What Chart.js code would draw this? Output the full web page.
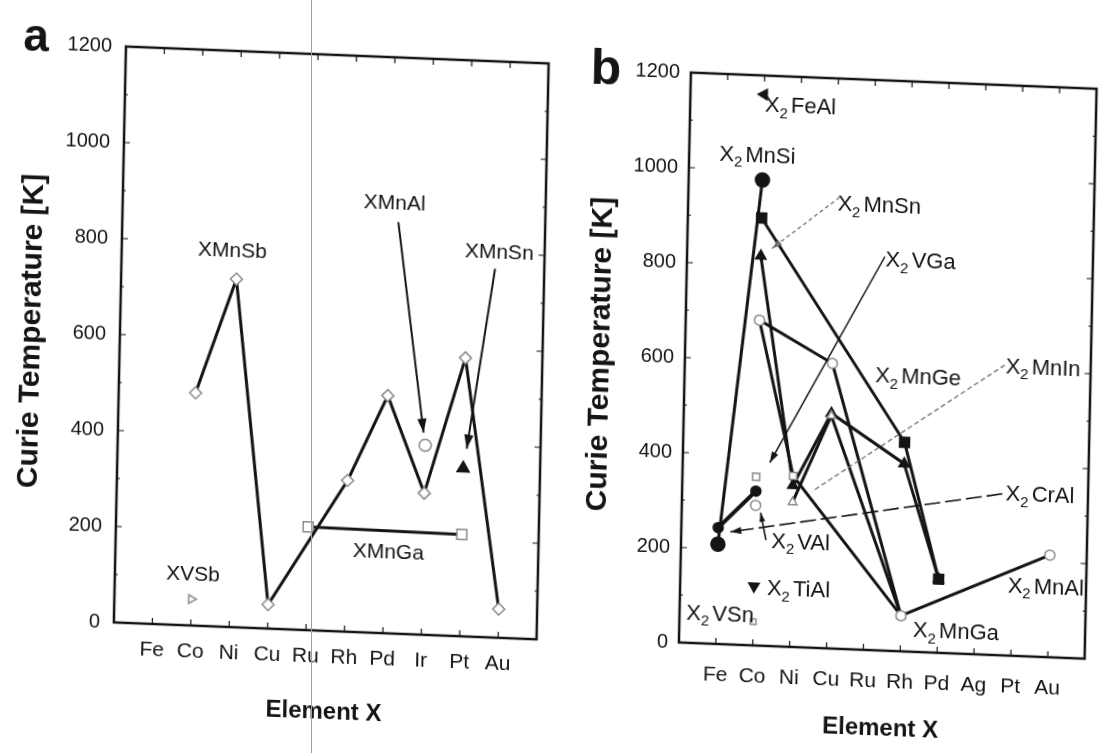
<!DOCTYPE html>
<html>
<head>
<meta charset="utf-8">
<title>Curie temperatures of Heusler compounds</title>
<script src="https://cdn.jsdelivr.net/npm/chart.js@4.4.1/dist/chart.umd.min.js"></script>
<style>
  html, body { margin: 0; background: #fff; }
  body { width: 1110px; height: 753px; position: relative; overflow: hidden; }
  .panel { position: absolute; top: 0; height: 753px; transform: matrix(1, 0.04, -0.021, 1, 0, 0); }
  /* the scan is slightly skewed, pivot on the plot centre */
  #panelA { left: 0; width: 560px; transform-origin: 331px 343px; }
  #panelB { left: 560px; width: 550px; transform-origin: 335px 366px; }
  .crease { position: absolute; left: 311px; top: 0; width: 1px; height: 753px; background: #a0a0a0; }
</style>
</head>
<body>
<div class="panel" id="panelA"><canvas id="chartA"></canvas></div>
<div class="panel" id="panelB"><canvas id="chartB"></canvas></div>
<div class="crease"></div>
<script>
// Curie temperature [K] vs element X

const elementsA = ['Fe', 'Co', 'Ni', 'Cu', 'Ru', 'Rh', 'Pd', 'Ir', 'Pt', 'Au'];
const elementsB = ['Fe', 'Co', 'Ni', 'Cu', 'Ru', 'Rh', 'Pd', 'Ag', 'Pt', 'Au'];
const yTicks = [0, 200, 400, 600, 800, 1000, 1200];

// (a) half-Heusler XYZ
const XMnSb = [null, 485, 725, 50, null, 315, 495, 295, 580, 60];
const XMnAl = [null, null, null, null, null, null, null, 395, null, null];
const XMnSn = [null, null, null, null, null, null, null, null, 350, null];
const XMnGa = [null, null, null, null, 215, null, null, null, 212, null];
const XVSb  = [null, 55, null, null, null, null, null, null, null, null];

// (b) full Heusler X2YZ
const X2MnSi = [210, 980, null, null, null, null, null, null, null, null];
const X2MnGe = [null, 900, null, null, null, 440, 155, null, null, null];
const X2MnSn = [null, 820, 340, 495, null, 395, 155, null, null, null];
const X2MnAl = [null, 685, null, 600, null, 75, null, null, null, 215];
const X2MnGa = [null, 685, 360, null, null, 75, null, null, null, null];
const X2MnIn = [null, null, 305, 490, null, 75, null, null, null, null];
const X2CrAl = [245, 325, null, null, null, null, null, null, null, null];
const X2VGa  = [null, 355, null, null, null, null, null, null, null, null];
const X2VAl  = [null, 295, null, null, null, null, null, null, null, null];
const X2TiAl = [null, 125, null, null, null, null, null, null, null, null];
const X2VSn  = [null, 50, null, null, null, null, null, null, null, null];
const X2FeAl = [null, 1160, null, null, null, null, null, null, null, null];

const INK = '#141414';
const OPEN = '#8a8a8a';
const FONT = "'Liberation Sans', Arial, sans-serif";

// one empty slot on each side so Fe..Au sit a full step inside the frame
const pad = arr => [null, ...arr, null];

function series(label, values, style) {
    return Object.assign({
        label: label,
        data: pad(values),
        spanGaps: true,
        borderColor: INK,
        borderWidth: 3,
        borderJoinStyle: 'round',
        pointRadius: 6,
        pointBorderWidth: 1.5,
        pointBorderColor: OPEN,
        pointBackgroundColor: '#fff'
    }, style);
}
const filled = { pointBackgroundColor: INK, pointBorderColor: INK };

// labels, arrows and the frame ticks are drawn here
function drawLabel(ctx, text, cx, cy, size) {
    const main = size + 'px ' + FONT;
    const small = Math.round(size * 0.68) + 'px ' + FONT;
    const parts = /^X2/.test(text)
        ? [['X', main, 0, 0], ['2', small, size * 0.34, 3], [text.slice(2), main, 0, 0]]
        : [[text, main, 0, 0]];
    let w = 0;
    parts.forEach(p => { ctx.font = p[1]; w += ctx.measureText(p[0]).width + p[3]; });
    let x = cx - w / 2;
    ctx.textAlign = 'left';
    ctx.textBaseline = 'middle';
    parts.forEach(p => {
        ctx.font = p[1];
        ctx.fillText(p[0], x, cy + p[2]);
        x += ctx.measureText(p[0]).width + p[3];
    });
}

function drawArrow(ctx, x0, y0, x1, y1, head) {
    ctx.beginPath();
    ctx.moveTo(x0, y0);
    ctx.lineTo(x1, y1);
    ctx.stroke();
    if (!head) return;
    const ang = Math.atan2(y1 - y0, x1 - x0);
    const c = Math.cos(ang), s = Math.sin(ang), hw = head * 0.33;
    ctx.setLineDash([]);
    ctx.beginPath();
    ctx.moveTo(x1, y1);
    ctx.lineTo(x1 - head * c + hw * s, y1 - head * s - hw * c);
    ctx.lineTo(x1 - head * c - hw * s, y1 - head * s + hw * c);
    ctx.closePath();
    ctx.fill();
}

const notesPlugin = {
    id: 'notes',
    beforeDatasetsDraw(chart) {
        const { ctx, chartArea: a, scales: { x, y } } = chart;
        ctx.save();
        ctx.strokeStyle = INK;
        ctx.lineWidth = 2.5;
        ctx.strokeRect(a.left, a.top, a.right - a.left, a.bottom - a.top);
        ctx.lineWidth = 1.2;
        ctx.beginPath();
        for (let i = 1; i <= 10; i++) {
            const px = x.getPixelForValue(i);
            ctx.moveTo(px, a.bottom); ctx.lineTo(px, a.bottom - 6);
            ctx.moveTo(px, a.top); ctx.lineTo(px, a.top + 6);
        }
        for (let v = 100; v < 1200; v += 100) {
            const py = y.getPixelForValue(v);
            const len = v % 200 ? 3 : 6;
            ctx.moveTo(a.left, py); ctx.lineTo(a.left + len, py);
            ctx.moveTo(a.right, py); ctx.lineTo(a.right - len, py);
        }
        ctx.stroke();
        ctx.restore();
    },
    afterDatasetsDraw(chart, args, opts) {
        const { ctx, scales: { x, y } } = chart;
        ctx.save();
        (opts.arrows || []).forEach(ar => {
            ctx.strokeStyle = ar.color || INK;
            ctx.fillStyle = ar.color || INK;
            ctx.lineWidth = ar.width || 1.5;
            ctx.setLineDash(ar.dash || []);
            drawArrow(ctx,
                x.getPixelForValue(ar.from[0]), y.getPixelForValue(ar.from[1]),
                x.getPixelForValue(ar.to[0]), y.getPixelForValue(ar.to[1]), ar.head);
        });
        ctx.setLineDash([]);
        ctx.fillStyle = INK;
        (opts.labels || []).forEach(lb => {
            drawLabel(ctx, lb.text, x.getPixelForValue(lb.at[0]), y.getPixelForValue(lb.at[1]), opts.labelSize);
        });
        if (opts.letter) {
            ctx.font = 'bold ' + opts.letter.size + 'px ' + FONT;
            ctx.textAlign = 'center';
            ctx.textBaseline = 'middle';
            ctx.fillText(opts.letter.text, opts.letter.x, opts.letter.y);
        }
        ctx.restore();
    }
};

function makeChart(id, elements, datasets, layout, notes) {
    const ctx = document.getElementById(id);
    return new Chart(ctx, {
        type: 'line',
        data: { labels: pad(elements).map(e => e || ''), datasets: datasets },
        plugins: [notesPlugin],
        options: {
            responsive: true,
            maintainAspectRatio: false,
            animation: false,
            layout: { padding: { top: layout.top, right: layout.right, left: 0, bottom: 0 } },
            plugins: { legend: { display: false }, tooltip: { enabled: false }, notes: notes },
            scales: {
                x: {
                    type: 'category',
                    offset: false,
                    grid: { display: false, drawTicks: false },
                    border: { display: false },
                    ticks: { autoSkip: false, maxRotation: 0, color: INK, padding: layout.xPad, font: { family: FONT, size: 21 } },
                    title: { display: true, text: 'Element X', color: INK, padding: { top: 0, bottom: layout.xTitlePad }, font: { family: FONT, size: 24, weight: 'bold' } },
                    afterFit: scale => { scale.height = layout.xHeight; }
                },
                y: {
                    min: 0,
                    max: 1200,
                    grid: { display: false, drawTicks: false },
                    border: { display: false },
                    afterBuildTicks: scale => { scale.ticks = yTicks.map(v => ({ value: v })); },
                    ticks: {
                        color: INK,
                        padding: layout.yPad,
                        font: { family: FONT, size: 20 },
                        callback: v => String(v)
                    },
                    title: { display: true, text: 'Curie Temperature [K]', color: INK, padding: { top: layout.yTitlePad, bottom: 0 }, font: { family: FONT, size: 30, weight: 'bold' } },
                    afterFit: scale => { scale.width = layout.yWidth; }
                }
            }
        }
    });
}

// (a)
makeChart('chartA', elementsA, [
    series('XMnSb', XMnSb, { pointStyle: 'rectRot', pointRadius: 6 }),
    series('XMnAl', XMnAl, { showLine: false, pointStyle: 'circle', pointRadius: 6 }),
    series('XMnSn', XMnSn, Object.assign({ showLine: false, pointStyle: 'triangle', pointRadius: 7 }, filled)),
    series('XMnGa', XMnGa, { pointStyle: 'rect', pointRadius: 7 }),
    series('XVSb', XVSb, { showLine: false, pointStyle: 'triangle', pointRotation: 90, pointRadius: 5 })
], { top: 55, right: 17, yWidth: 120, xHeight: 122, xPad: 14, yPad: 14, xTitlePad: 26, yTitlePad: 14 }, {
    labelSize: 21,
    letter: { text: 'a', x: 30, y: 50, size: 46 },
    labels: [
        { text: 'XMnSb', at: [2.88, 783] },
        { text: 'XMnAl', at: [7.07, 896] },
        { text: 'XMnSn', at: [9.82, 802] },
        { text: 'XMnGa', at: [7.1, 169] },
        { text: 'XVSb', at: [2.03, 106] }
    ],
    arrows: [
        { from: [7.18, 857], to: [7.95, 421], width: 2, head: 14 },
        { from: [9.72, 768], to: [9.08, 391], width: 2, head: 14 }
    ]
});

// (b)
makeChart('chartB', elementsB, [
    series('X2MnAl', X2MnAl, { pointStyle: 'circle', pointRadius: 5 }),
    series('X2MnGa', X2MnGa, { pointStyle: 'rect', pointRadius: 5 }),
    series('X2MnIn', X2MnIn, { pointStyle: 'triangle', pointRadius: 5 }),
    series('X2MnSn', X2MnSn, Object.assign({ pointStyle: 'triangle', pointRadius: 6 }, filled)),
    series('X2MnGe', X2MnGe, Object.assign({ pointStyle: 'rect', pointRadius: 7 }, filled)),
    series('X2MnSi', X2MnSi, Object.assign({ pointStyle: 'circle', pointRadius: 7 }, filled)),
    series('X2CrAl', X2CrAl, Object.assign({ pointStyle: 'circle', pointRadius: 5, borderWidth: 4 }, filled)),
    series('X2VGa', X2VGa, { showLine: false, pointStyle: 'rect', pointRadius: 5 }),
    series('X2VAl', X2VAl, { showLine: false, pointStyle: 'circle', pointRadius: 5 }),
    series('X2TiAl', X2TiAl, Object.assign({ showLine: false, pointStyle: 'triangle', pointRotation: 180, pointRadius: 6 }, filled)),
    series('X2VSn', X2VSn, { showLine: false, pointStyle: 'rect', pointRadius: 4 }),
    series('X2FeAl', X2FeAl, Object.assign({ showLine: false, pointStyle: 'triangle', pointRotation: -90, pointRadius: 6 }, filled))
], { top: 81, right: 4, yWidth: 125, xHeight: 102, xPad: 19, yPad: 11, xTitlePad: 9, yTitlePad: 23 }, {
    labelSize: 22,
    letter: { text: 'b', x: 40, y: 82, size: 50 },
    labels: [
        { text: 'X2FeAl', at: [2.99, 1137] },
        { text: 'X2MnSi', at: [1.85, 1030] },
        { text: 'X2MnSn', at: [5.18, 934] },
        { text: 'X2VGa', at: [6.33, 821] },
        { text: 'X2MnGe', at: [6.33, 576] },
        { text: 'X2MnIn', at: [9.71, 607] },
        { text: 'X2CrAl', at: [9.7, 339] },
        { text: 'X2VAl', at: [3.24, 220] },
        { text: 'X2TiAl', at: [3.21, 120] },
        { text: 'X2VSn', at: [1.1, 62] },
        { text: 'X2MnAl', at: [9.91, 146] },
        { text: 'X2MnGa', at: [7.5, 44] }
    ],
    arrows: [
        { from: [4.1, 950], to: [2.3, 837], width: 1.3, color: '#6f6f6f', dash: [4, 3], head: 10 },
        { from: [5.36, 829], to: [2.36, 386], width: 1.5, head: 11 },
        { from: [8.67, 611], to: [3.52, 329], width: 1.3, color: '#6f6f6f', dash: [5, 3] },
        { from: [8.68, 340], to: [1.33, 237], width: 1.6, dash: [16, 5], head: 11 },
        { from: [2.3, 223], to: [2.14, 280], width: 1.6, head: 9 }
    ]
});
</script>
</body>
</html>
